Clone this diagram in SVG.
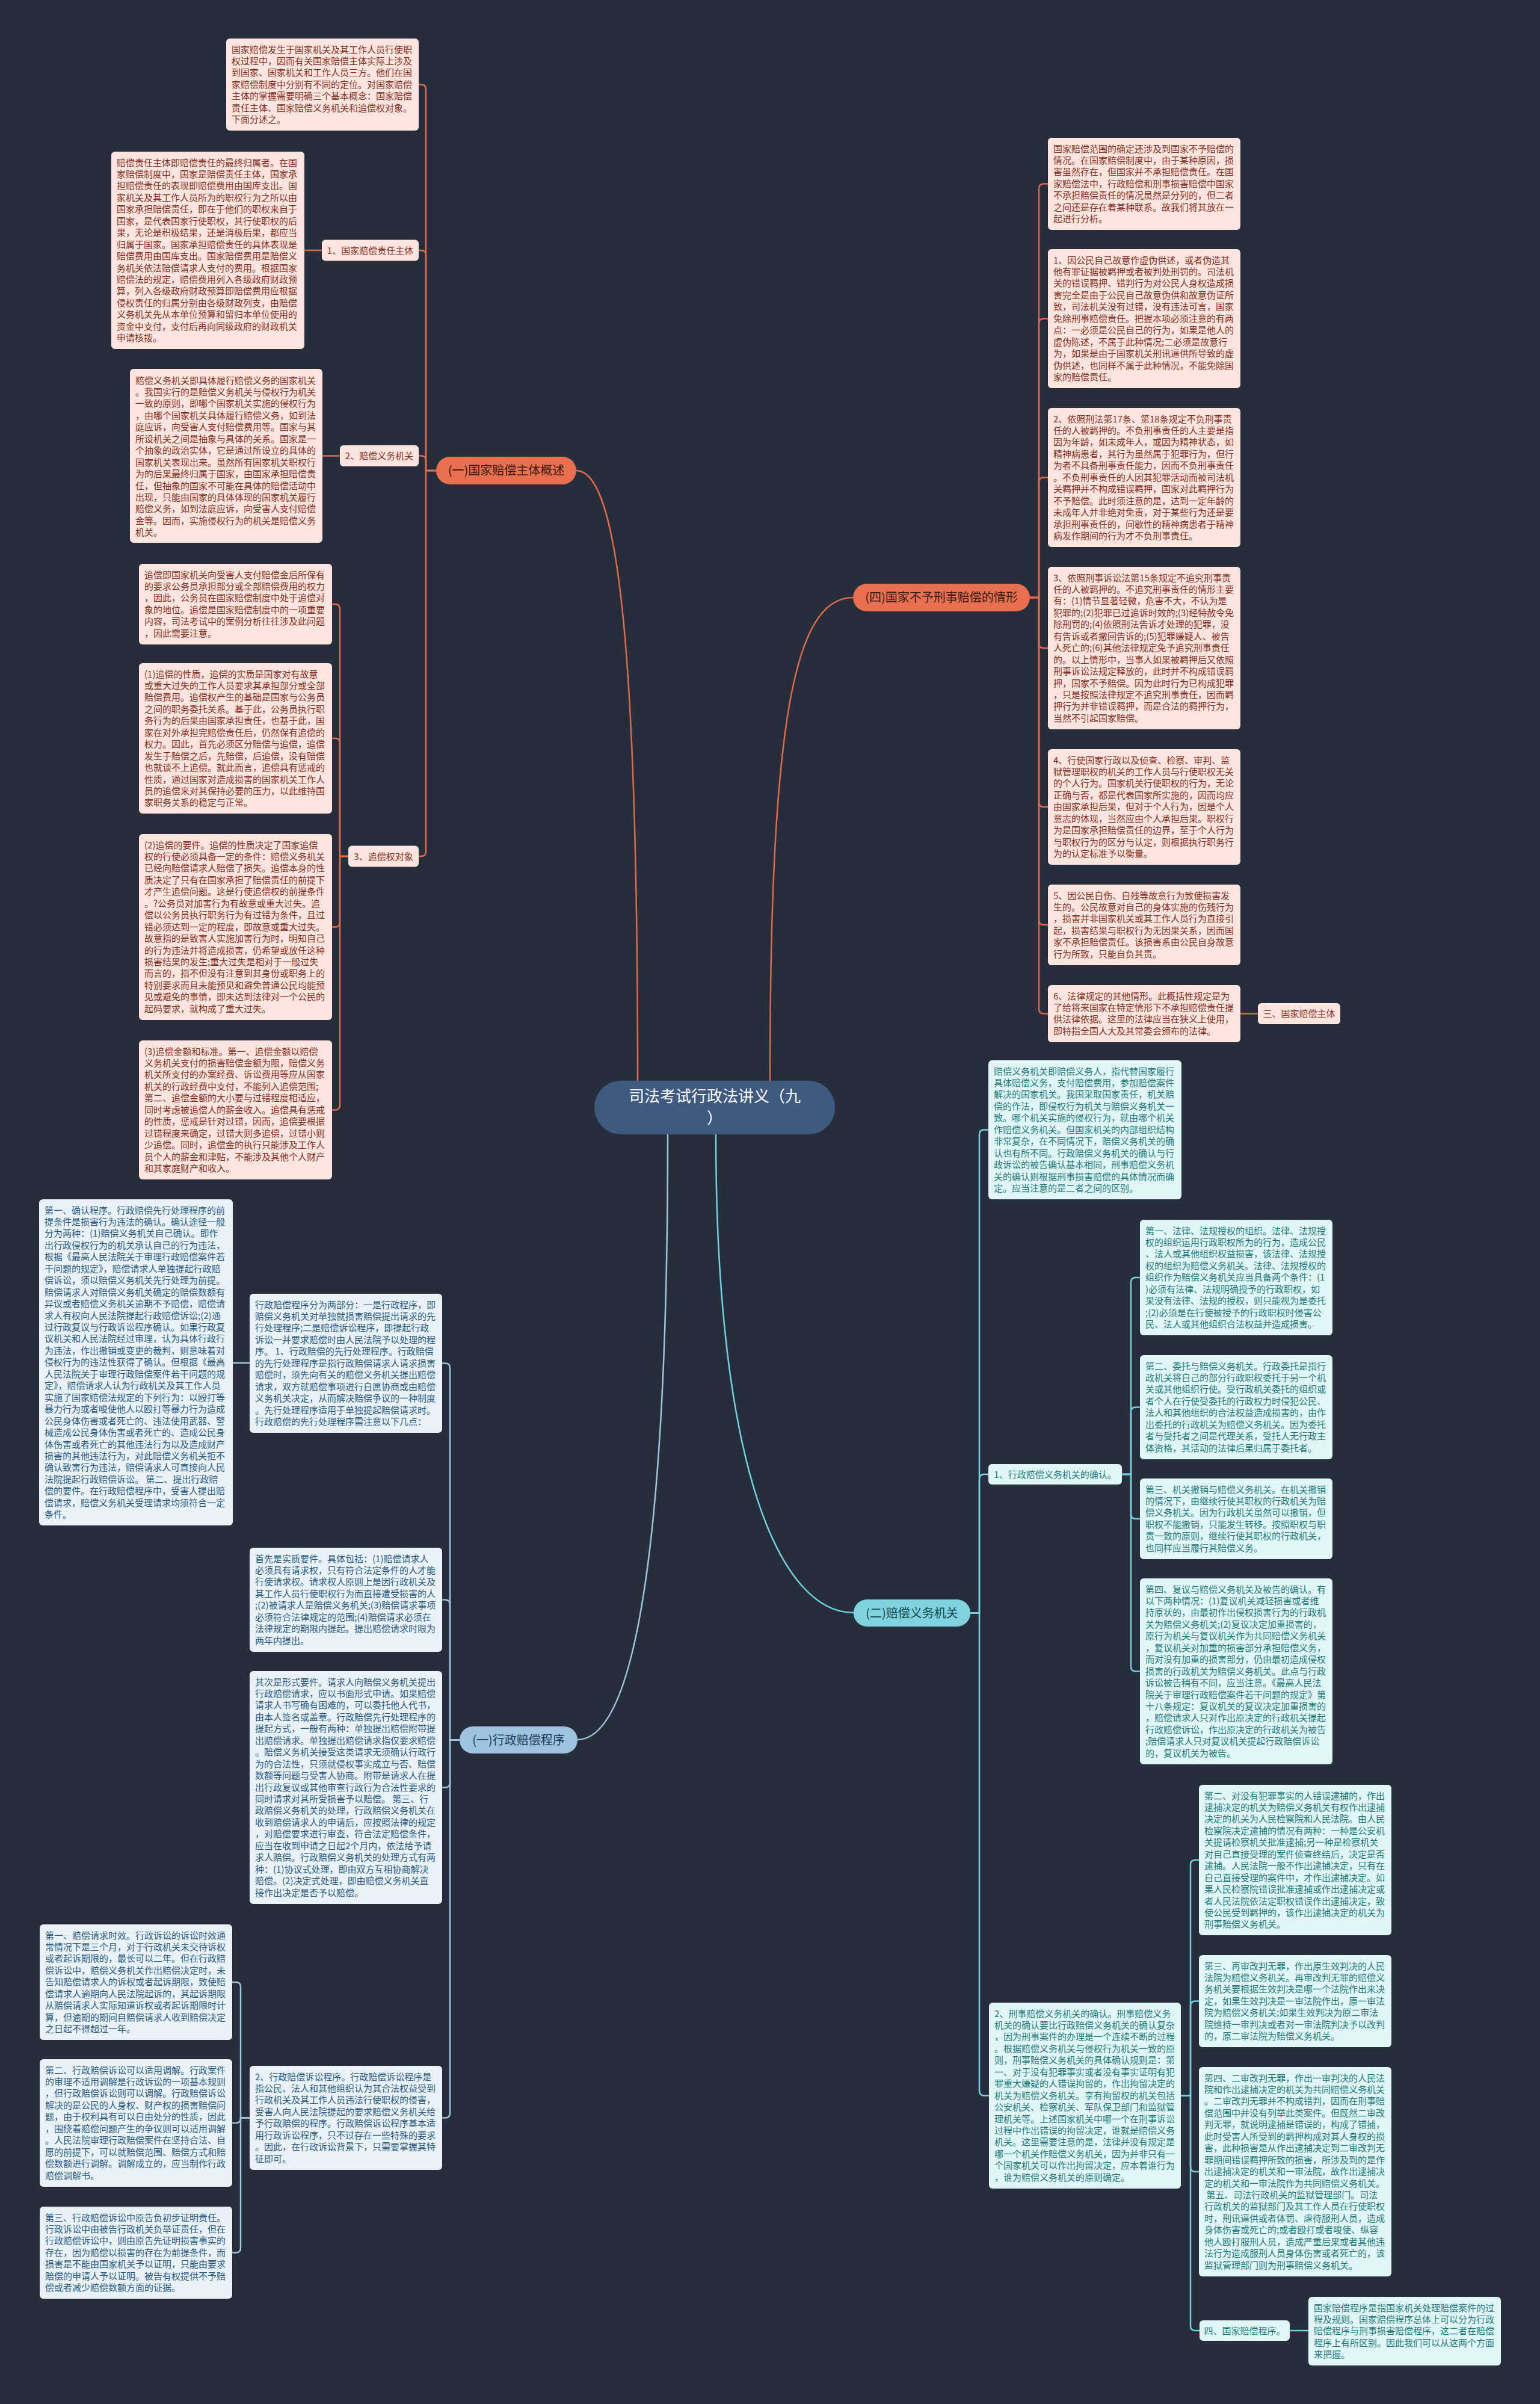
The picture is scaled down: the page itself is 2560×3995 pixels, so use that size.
<svg xmlns="http://www.w3.org/2000/svg" width="2560" height="3995" viewBox="0 0 2560 3995">
<style>
text{font-family:"Noto Sans CJK SC","Noto Sans",sans-serif;font-size:15px}
.pk{fill:#fce5de}
.pt{fill:#8a2e22}
.bl{fill:#e8f2f8}
.bt{fill:#295a85}
.cy{fill:#e1f6f7}
.ct{fill:#1b7a7e}
.oc{fill:none;stroke:#e0694b;stroke-width:2.5}
.bc{fill:none;stroke:#9fc4de;stroke-width:2.5}
.cc{fill:none;stroke:#73d2df;stroke-width:2.5}
.mid{text-anchor:middle}
.big{font-size:20px}
</style>
<rect width="2560" height="3995" fill="#262e3c"/>
<g id="connectors">
<path class="oc" d="M1060 1796C1060 1100 1030 782 958 782"/>
<path class="oc" d="M725 782H708V148.5Q708 140.5 700 140.5H696"/>
<path class="oc" d="M725 782H708V424Q708 416 700 416H696"/>
<path class="oc" d="M725 782H708V765.5Q708 757.5 700 757.5H696"/>
<path class="oc" d="M725 782H708V1415Q708 1423 700 1423H696"/>
<path class="oc" d="M535 416H506"/>
<path class="oc" d="M565 757.5H536"/>
<path class="oc" d="M579 1423H565V1012Q565 1004 557 1004H552"/>
<path class="oc" d="M579 1423H565V1235Q565 1227 557 1227H552"/>
<path class="oc" d="M579 1423H565V1532.5Q565 1540.5 557 1540.5H552"/>
<path class="oc" d="M579 1423H565V1836.5Q565 1844.5 557 1844.5H552"/>
<path class="oc" d="M1280 1796C1280 1200 1320 993 1418 993"/>
<path class="oc" d="M1712 993H1727V313.5Q1727 305.5 1735 305.5H1742"/>
<path class="oc" d="M1712 993H1727V537.5Q1727 529.5 1735 529.5H1742"/>
<path class="oc" d="M1712 993H1727V801.5Q1727 793.5 1735 793.5H1742"/>
<path class="oc" d="M1712 993H1727V1069Q1727 1077 1735 1077H1742"/>
<path class="oc" d="M1712 993H1727V1333Q1727 1341 1735 1341H1742"/>
<path class="oc" d="M1712 993H1727V1529Q1727 1537 1735 1537H1742"/>
<path class="oc" d="M1712 993H1727V1676.5Q1727 1684.5 1735 1684.5H1742"/>
<path class="oc" d="M2062 1684.5H2091"/>
<path class="cc" d="M1190 1885C1190 2450 1300 2680 1419 2680"/>
<path class="cc" d="M1613 2680.5H1628V1885.5Q1628 1877.5 1636 1877.5H1643"/>
<path class="cc" d="M1613 2680.5H1628V2458Q1628 2450 1636 2450H1643"/>
<path class="cc" d="M1613 2680.5H1628V3474.5Q1628 3482.5 1636 3482.5H1644"/>
<path class="cc" d="M1865 2450H1880V2131Q1880 2123 1888 2123H1895"/>
<path class="cc" d="M1865 2450H1880V2346.5Q1880 2338.5 1888 2338.5H1895"/>
<path class="cc" d="M1865 2450H1880V2516Q1880 2524 1888 2524H1895"/>
<path class="cc" d="M1865 2450H1880V2769.5Q1880 2777.5 1888 2777.5H1895"/>
<path class="cc" d="M1963 3482.5H1979V3099Q1979 3091 1987 3091H1993"/>
<path class="cc" d="M1963 3482.5H1979V3333.5Q1979 3325.5 1987 3325.5H1993"/>
<path class="cc" d="M1963 3482.5H1979V3601Q1979 3609 1987 3609H1993"/>
<path class="cc" d="M1963 3482.5H1979V3865Q1979 3873 1987 3873H1994"/>
<path class="cc" d="M2144 3873H2175"/>
<path class="bc" d="M1110 1885C1110 2600 1050 2891 960 2891"/>
<path class="bc" d="M764 2891.5H748V2273.5Q748 2265.5 740 2265.5H735"/>
<path class="bc" d="M764 2891.5H748V2666.5Q748 2658.5 740 2658.5H735"/>
<path class="bc" d="M764 2891.5H748V2962.5Q748 2970.5 740 2970.5H735"/>
<path class="bc" d="M764 2891.5H748V3511.5Q748 3519.5 740 3519.5H735"/>
<path class="bc" d="M415 2265H387"/>
<path class="bc" d="M415 3519.5H400V3302Q400 3294 392 3294H386"/>
<path class="bc" d="M415 3519.5H400V3520Q400 3528 392 3528H386"/>
<path class="bc" d="M415 3519.5H400V3735.5Q400 3743.5 392 3743.5H386"/>
</g>
<g id="center">
<rect x="988" y="1796" width="400" height="89" rx="44" fill="#3f5a7e"/>
<text class="mid" x="1188" y="1831" style="font-size:26px" fill="#ffffff">司法考试行政法讲义（九<tspan x="1188" dy="36">）</tspan></text>
</g>
<g id="n-gjpczt">
<rect x="725" y="759" width="233" height="46" rx="23" fill="#e8704f"/>
<text class="mid big" x="841.5" y="789" fill="#3a1a12">(一)国家赔偿主体概述</text>
</g>
<g id="n-intro">
<rect class="pk" x="376" y="64" width="320" height="153" rx="6"/>
<text class="pt" x="385" y="87.5">国家赔偿发生于国家机关及其工作人员行使职<tspan x="385" dy="19.45">权过程中，因而有关国家赔偿主体实际上涉及</tspan><tspan x="385" dy="19.45">到国家、国家机关和工作人员三方。他们在国</tspan><tspan x="385" dy="19.45">家赔偿制度中分别有不同的定位。对国家赔偿</tspan><tspan x="385" dy="19.45">主体的掌握需要明确三个基本概念：国家赔偿</tspan><tspan x="385" dy="19.45">责任主体、国家赔偿义务机关和追偿权对象。</tspan><tspan x="385" dy="19.45">下面分述之。</tspan></text>
</g>
<g id="l-zrzt">
<rect class="pk" x="535" y="398.5" width="161" height="35" rx="6"/>
<text class="pt mid" x="615.5" y="421.5">1、国家赔偿责任主体</text>
</g>
<g id="b-zrzt">
<rect class="pk" x="185" y="252" width="321" height="328" rx="6"/>
<text class="pt" x="194" y="275.5">赔偿责任主体即赔偿责任的最终归属者。在国<tspan x="194" dy="19.45">家赔偿制度中，国家是赔偿责任主体，国家承</tspan><tspan x="194" dy="19.45">担赔偿责任的表现即赔偿费用由国库支出。国</tspan><tspan x="194" dy="19.45">家机关及其工作人员所为的职权行为之所以由</tspan><tspan x="194" dy="19.45">国家承担赔偿责任，即在于他们的职权来自于</tspan><tspan x="194" dy="19.45">国家，是代表国家行使职权，其行使职权的后</tspan><tspan x="194" dy="19.45">果，无论是积极结果，还是消极后果，都应当</tspan><tspan x="194" dy="19.45">归属于国家。国家承担赔偿责任的具体表现是</tspan><tspan x="194" dy="19.45">赔偿费用由国库支出。国家赔偿费用是赔偿义</tspan><tspan x="194" dy="19.45">务机关依法赔偿请求人支付的费用。根据国家</tspan><tspan x="194" dy="19.45">赔偿法的规定，赔偿费用列入各级政府财政预</tspan><tspan x="194" dy="19.45">算，列入各级政府财政预算即赔偿费用应根据</tspan><tspan x="194" dy="19.45">侵权责任的归属分别由各级财政列支，由赔偿</tspan><tspan x="194" dy="19.45">义务机关先从本单位预算和留归本单位使用的</tspan><tspan x="194" dy="19.45">资金中支付，支付后再向同级政府的财政机关</tspan><tspan x="194" dy="19.45">申请核拨。</tspan></text>
</g>
<g id="l-ywjg">
<rect class="pk" x="565" y="740" width="131" height="35" rx="6"/>
<text class="pt mid" x="630.5" y="763">2、赔偿义务机关</text>
</g>
<g id="b-ywjg">
<rect class="pk" x="216" y="613" width="320" height="289" rx="6"/>
<text class="pt" x="225" y="637.5">赔偿义务机关即具体履行赔偿义务的国家机关<tspan x="225" dy="19.45">。我国实行的是赔偿义务机关与侵权行为机关</tspan><tspan x="225" dy="19.45">一致的原则，即哪个国家机关实施的侵权行为</tspan><tspan x="225" dy="19.45">，由哪个国家机关具体履行赔偿义务，如到法</tspan><tspan x="225" dy="19.45">庭应诉，向受害人支付赔偿费用等。国家与其</tspan><tspan x="225" dy="19.45">所设机关之间是抽象与具体的关系。国家是一</tspan><tspan x="225" dy="19.45">个抽象的政治实体，它是通过所设立的具体的</tspan><tspan x="225" dy="19.45">国家机关表现出来。虽然所有国家机关职权行</tspan><tspan x="225" dy="19.45">为的后果最终归属于国家，由国家承担赔偿责</tspan><tspan x="225" dy="19.45">任，但抽象的国家不可能在具体的赔偿活动中</tspan><tspan x="225" dy="19.45">出现，只能由国家的具体体现的国家机关履行</tspan><tspan x="225" dy="19.45">赔偿义务，如到法庭应诉，向受害人支付赔偿</tspan><tspan x="225" dy="19.45">金等。因而，实施侵权行为的机关是赔偿义务</tspan><tspan x="225" dy="19.45">机关。</tspan></text>
</g>
<g id="l-zcq">
<rect class="pk" x="579" y="1405.5" width="117" height="35" rx="6"/>
<text class="pt mid" x="637.5" y="1428.5">3、追偿权对象</text>
</g>
<g id="b-zc0">
<rect class="pk" x="231" y="937" width="321" height="134" rx="6"/>
<text class="pt" x="240" y="960.5">追偿即国家机关向受害人支付赔偿金后所保有<tspan x="240" dy="19.45">的要求公务员承担部分或全部赔偿费用的权力</tspan><tspan x="240" dy="19.45">，因此，公务员在国家赔偿制度中处于追偿对</tspan><tspan x="240" dy="19.45">象的地位。追偿是国家赔偿制度中的一项重要</tspan><tspan x="240" dy="19.45">内容，司法考试中的案例分析往往涉及此问题</tspan><tspan x="240" dy="19.45">，因此需要注意。</tspan></text>
</g>
<g id="b-zc1">
<rect class="pk" x="231" y="1102" width="321" height="250" rx="6"/>
<text class="pt" x="240" y="1125.5">(1)追偿的性质，追偿的实质是国家对有故意<tspan x="240" dy="19.45">或重大过失的工作人员要求其承担部分或全部</tspan><tspan x="240" dy="19.45">赔偿费用。追偿权产生的基础是国家与公务员</tspan><tspan x="240" dy="19.45">之间的职务委托关系。基于此，公务员执行职</tspan><tspan x="240" dy="19.45">务行为的后果由国家承担责任，也基于此，国</tspan><tspan x="240" dy="19.45">家在对外承担完赔偿责任后，仍然保有追偿的</tspan><tspan x="240" dy="19.45">权力。因此，首先必须区分赔偿与追偿，追偿</tspan><tspan x="240" dy="19.45">发生于赔偿之后，先赔偿，后追偿，没有赔偿</tspan><tspan x="240" dy="19.45">也就谈不上追偿。就此而言，追偿具有惩戒的</tspan><tspan x="240" dy="19.45">性质，通过国家对造成损害的国家机关工作人</tspan><tspan x="240" dy="19.45">员的追偿来对其保持必要的压力，以此维持国</tspan><tspan x="240" dy="19.45">家职务关系的稳定与正常。</tspan></text>
</g>
<g id="b-zc2">
<rect class="pk" x="231" y="1386" width="321" height="309" rx="6"/>
<text class="pt" x="240" y="1409.5">(2)追偿的要件。追偿的性质决定了国家追偿<tspan x="240" dy="19.45">权的行使必须具备一定的条件：赔偿义务机关</tspan><tspan x="240" dy="19.45">已经向赔偿请求人赔偿了损失。追偿本身的性</tspan><tspan x="240" dy="19.45">质决定了只有在国家承担了赔偿责任的前提下</tspan><tspan x="240" dy="19.45">才产生追偿问题。这是行使追偿权的前提条件</tspan><tspan x="240" dy="19.45">。?公务员对加害行为有故意或重大过失。追</tspan><tspan x="240" dy="19.45">偿以公务员执行职务行为有过错为条件，且过</tspan><tspan x="240" dy="19.45">错必须达到一定的程度，即故意或重大过失。</tspan><tspan x="240" dy="19.45">故意指的是致害人实施加害行为时，明知自己</tspan><tspan x="240" dy="19.45">的行为违法并将造成损害，仍希望或放任这种</tspan><tspan x="240" dy="19.45">损害结果的发生;重大过失是相对于一般过失</tspan><tspan x="240" dy="19.45">而言的，指不但没有注意到其身份或职务上的</tspan><tspan x="240" dy="19.45">特别要求而且未能预见和避免普通公民均能预</tspan><tspan x="240" dy="19.45">见或避免的事情，即未达到法律对一个公民的</tspan><tspan x="240" dy="19.45">起码要求，就构成了重大过失。</tspan></text>
</g>
<g id="b-zc3">
<rect class="pk" x="231" y="1729" width="321" height="231" rx="6"/>
<text class="pt" x="240" y="1752.5">(3)追偿金额和标准。第一、追偿金额以赔偿<tspan x="240" dy="19.45">义务机关支付的损害赔偿金额为限，赔偿义务</tspan><tspan x="240" dy="19.45">机关所支付的办案经费、诉讼费用等应从国家</tspan><tspan x="240" dy="19.45">机关的行政经费中支付，不能列入追偿范围;</tspan><tspan x="240" dy="19.45">第二、追偿金额的大小要与过错程度相适应，</tspan><tspan x="240" dy="19.45">同时考虑被追偿人的薪金收入。追偿具有惩戒</tspan><tspan x="240" dy="19.45">的性质，惩戒是针对过错，因而，追偿要根据</tspan><tspan x="240" dy="19.45">过错程度来确定，过错大则多追偿，过错小则</tspan><tspan x="240" dy="19.45">少追偿。同时，追偿金的执行只能涉及工作人</tspan><tspan x="240" dy="19.45">员个人的薪金和津贴，不能涉及其他个人财产</tspan><tspan x="240" dy="19.45">和其家庭财产和收入。</tspan></text>
</g>
<g id="n-xzpccx">
<rect x="764" y="2869" width="196" height="45" rx="22" fill="#9cc3df"/>
<text class="mid big" x="862" y="2898.5" fill="#1f3d5a">(一)行政赔偿程序</text>
</g>
<g id="b-xz0">
<rect class="bl" x="415" y="2150" width="320" height="231" rx="6"/>
<text class="bt" x="424" y="2173.5">行政赔偿程序分为两部分：一是行政程序，即<tspan x="424" dy="19.45">赔偿义务机关对单独就损害赔偿提出请求的先</tspan><tspan x="424" dy="19.45">行处理程序;二是赔偿诉讼程序，即提起行政</tspan><tspan x="424" dy="19.45">诉讼一并要求赔偿时由人民法院予以处理的程</tspan><tspan x="424" dy="19.45">序。 1、行政赔偿的先行处理程序。行政赔偿</tspan><tspan x="424" dy="19.45">的先行处理程序是指行政赔偿请求人请求损害</tspan><tspan x="424" dy="19.45">赔偿时，须先向有关的赔偿义务机关提出赔偿</tspan><tspan x="424" dy="19.45">请求，双方就赔偿事项进行自愿协商或由赔偿</tspan><tspan x="424" dy="19.45">义务机关决定，从而解决赔偿争议的一种制度</tspan><tspan x="424" dy="19.45">。先行处理程序适用于单独提起赔偿请求时。</tspan><tspan x="424" dy="19.45">行政赔偿的先行处理程序需注意以下几点：</tspan></text>
</g>
<g id="b-xz00">
<rect class="bl" x="65" y="1993" width="322" height="542" rx="6"/>
<text class="bt" x="74" y="2016.5">第一、确认程序。行政赔偿先行处理程序的前<tspan x="74" dy="19.45">提条件是损害行为违法的确认。确认途径一般</tspan><tspan x="74" dy="19.45">分为两种：(1)赔偿义务机关自己确认。即作</tspan><tspan x="74" dy="19.45">出行政侵权行为的机关承认自己的行为违法，</tspan><tspan x="74" dy="19.45">根据《最高人民法院关于审理行政赔偿案件若</tspan><tspan x="74" dy="19.45">干问题的规定》，赔偿请求人单独提起行政赔</tspan><tspan x="74" dy="19.45">偿诉讼，须以赔偿义务机关先行处理为前提。</tspan><tspan x="74" dy="19.45">赔偿请求人对赔偿义务机关确定的赔偿数额有</tspan><tspan x="74" dy="19.45">异议或者赔偿义务机关逾期不予赔偿，赔偿请</tspan><tspan x="74" dy="19.45">求人有权向人民法院提起行政赔偿诉讼;(2)通</tspan><tspan x="74" dy="19.45">过行政复议与行政诉讼程序确认。如果行政复</tspan><tspan x="74" dy="19.45">议机关和人民法院经过审理，认为具体行政行</tspan><tspan x="74" dy="19.45">为违法，作出撤销或变更的裁判，则意味着对</tspan><tspan x="74" dy="19.45">侵权行为的违法性获得了确认。但根据《最高</tspan><tspan x="74" dy="19.45">人民法院关于审理行政赔偿案件若干问题的规</tspan><tspan x="74" dy="19.45">定》，赔偿请求人认为行政机关及其工作人员</tspan><tspan x="74" dy="19.45">实施了国家赔偿法规定的下列行为：以殴打等</tspan><tspan x="74" dy="19.45">暴力行为或者唆使他人以殴打等暴力行为造成</tspan><tspan x="74" dy="19.45">公民身体伤害或者死亡的、违法使用武器、警</tspan><tspan x="74" dy="19.45">械造成公民身体伤害或者死亡的、造成公民身</tspan><tspan x="74" dy="19.45">体伤害或者死亡的其他违法行为以及造成财产</tspan><tspan x="74" dy="19.45">损害的其他违法行为，对此赔偿义务机关拒不</tspan><tspan x="74" dy="19.45">确认致害行为违法，赔偿请求人可直接向人民</tspan><tspan x="74" dy="19.45">法院提起行政赔偿诉讼。 第二、提出行政赔</tspan><tspan x="74" dy="19.45">偿的要件。在行政赔偿程序中，受害人提出赔</tspan><tspan x="74" dy="19.45">偿请求，赔偿义务机关受理请求均须符合一定</tspan><tspan x="74" dy="19.45">条件。</tspan></text>
</g>
<g id="b-xz1">
<rect class="bl" x="415" y="2572" width="320" height="173" rx="6"/>
<text class="bt" x="424" y="2595.5">首先是实质要件。具体包括：(1)赔偿请求人<tspan x="424" dy="19.45">必须具有请求权，只有符合法定条件的人才能</tspan><tspan x="424" dy="19.45">行使请求权。请求权人原则上是因行政机关及</tspan><tspan x="424" dy="19.45">其工作人员行使职权行为而直接遭受损害的人</tspan><tspan x="424" dy="19.45">;(2)被请求人是赔偿义务机关;(3)赔偿请求事项</tspan><tspan x="424" dy="19.45">必须符合法律规定的范围;(4)赔偿请求必须在</tspan><tspan x="424" dy="19.45">法律规定的期限内提起。提出赔偿请求时限为</tspan><tspan x="424" dy="19.45">两年内提出。</tspan></text>
</g>
<g id="b-xz2">
<rect class="bl" x="415" y="2777" width="320" height="387" rx="6"/>
<text class="bt" x="424" y="2800.5">其次是形式要件。请求人向赔偿义务机关提出<tspan x="424" dy="19.45">行政赔偿请求，应以书面形式申请。如果赔偿</tspan><tspan x="424" dy="19.45">请求人书写确有困难的，可以委托他人代书，</tspan><tspan x="424" dy="19.45">由本人签名或盖章。行政赔偿先行处理程序的</tspan><tspan x="424" dy="19.45">提起方式，一般有两种：单独提出赔偿附带提</tspan><tspan x="424" dy="19.45">出赔偿请求。单独提出赔偿请求指仅要求赔偿</tspan><tspan x="424" dy="19.45">。赔偿义务机关接受这类请求无须确认行政行</tspan><tspan x="424" dy="19.45">为的合法性，只须就侵权事实成立与否、赔偿</tspan><tspan x="424" dy="19.45">数额等问题与受害人协商。附带是请求人在提</tspan><tspan x="424" dy="19.45">出行政复议或其他审查行政行为合法性要求的</tspan><tspan x="424" dy="19.45">同时请求对其所受损害予以赔偿。 第三、行</tspan><tspan x="424" dy="19.45">政赔偿义务机关的处理，行政赔偿义务机关在</tspan><tspan x="424" dy="19.45">收到赔偿请求人的申请后，应按照法律的规定</tspan><tspan x="424" dy="19.45">，对赔偿要求进行审查，符合法定赔偿条件，</tspan><tspan x="424" dy="19.45">应当在收到申请之日起2个月内，依法给予请</tspan><tspan x="424" dy="19.45">求人赔偿。行政赔偿义务机关的处理方式有两</tspan><tspan x="424" dy="19.45">种：(1)协议式处理，即由双方互相协商解决</tspan><tspan x="424" dy="19.45">赔偿。(2)决定式处理，即由赔偿义务机关直</tspan><tspan x="424" dy="19.45">接作出决定是否予以赔偿。</tspan></text>
</g>
<g id="b-xz3">
<rect class="bl" x="415" y="3433" width="320" height="173" rx="6"/>
<text class="bt" x="424" y="3456.5">2、行政赔偿诉讼程序。行政赔偿诉讼程序是<tspan x="424" dy="19.45">指公民、法人和其他组织认为其合法权益受到</tspan><tspan x="424" dy="19.45">行政机关及其工作人员违法行使职权的侵害，</tspan><tspan x="424" dy="19.45">受害人向人民法院提起的要求赔偿义务机关给</tspan><tspan x="424" dy="19.45">予行政赔偿的程序。行政赔偿诉讼程序基本适</tspan><tspan x="424" dy="19.45">用行政诉讼程序，只不过存在一些特殊的要求</tspan><tspan x="424" dy="19.45">。因此，在行政诉讼背景下，只需要掌握其特</tspan><tspan x="424" dy="19.45">征即可。</tspan></text>
</g>
<g id="b-xz31">
<rect class="bl" x="66" y="3198" width="320" height="192" rx="6"/>
<text class="bt" x="75" y="3221.5">第一、赔偿请求时效。行政诉讼的诉讼时效通<tspan x="75" dy="19.45">常情况下是三个月，对于行政机关未交待诉权</tspan><tspan x="75" dy="19.45">或者起诉期限的，最长可以二年。但在行政赔</tspan><tspan x="75" dy="19.45">偿诉讼中，赔偿义务机关作出赔偿决定时，未</tspan><tspan x="75" dy="19.45">告知赔偿请求人的诉权或者起诉期限，致使赔</tspan><tspan x="75" dy="19.45">偿请求人逾期向人民法院起诉的，其起诉期限</tspan><tspan x="75" dy="19.45">从赔偿请求人实际知道诉权或者起诉期限时计</tspan><tspan x="75" dy="19.45">算，但逾期的期间自赔偿请求人收到赔偿决定</tspan><tspan x="75" dy="19.45">之日起不得超过一年。</tspan></text>
</g>
<g id="b-xz32">
<rect class="bl" x="66" y="3422" width="320" height="212" rx="6"/>
<text class="bt" x="75" y="3445.5">第二、行政赔偿诉讼可以适用调解。行政案件<tspan x="75" dy="19.45">的审理不适用调解是行政诉讼的一项基本规则</tspan><tspan x="75" dy="19.45">，但行政赔偿诉讼则可以调解。行政赔偿诉讼</tspan><tspan x="75" dy="19.45">解决的是公民的人身权、财产权的损害赔偿问</tspan><tspan x="75" dy="19.45">题，由于权利具有可以自由处分的性质，因此</tspan><tspan x="75" dy="19.45">，围绕着赔偿问题产生的争议则可以适用调解</tspan><tspan x="75" dy="19.45">。人民法院审理行政赔偿案件在坚持合法、自</tspan><tspan x="75" dy="19.45">愿的前提下，可以就赔偿范围、赔偿方式和赔</tspan><tspan x="75" dy="19.45">偿数额进行调解。调解成立的，应当制作行政</tspan><tspan x="75" dy="19.45">赔偿调解书。</tspan></text>
</g>
<g id="b-xz33">
<rect class="bl" x="66" y="3667" width="320" height="153" rx="6"/>
<text class="bt" x="75" y="3690.5">第三、行政赔偿诉讼中原告负初步证明责任。<tspan x="75" dy="19.45">行政诉讼中由被告行政机关负举证责任，但在</tspan><tspan x="75" dy="19.45">行政赔偿诉讼中，则由原告先证明损害事实的</tspan><tspan x="75" dy="19.45">存在，因为赔偿以损害的存在为前提条件，而</tspan><tspan x="75" dy="19.45">损害是不能由国家机关予以证明，只能由要求</tspan><tspan x="75" dy="19.45">赔偿的申请人予以证明。被告有权提供不予赔</tspan><tspan x="75" dy="19.45">偿或者减少赔偿数额方面的证据。</tspan></text>
</g>
<g id="n-bypc">
<rect x="1418" y="970" width="294" height="46" rx="23" fill="#e8704f"/>
<text class="mid big" x="1565" y="1000" fill="#3a1a12">(四)国家不予刑事赔偿的情形</text>
</g>
<g id="b-by0">
<rect class="pk" x="1742" y="229" width="320" height="153" rx="6"/>
<text class="pt" x="1751" y="252.5">国家赔偿范围的确定还涉及到国家不予赔偿的<tspan x="1751" dy="19.45">情况。在国家赔偿制度中，由于某种原因，损</tspan><tspan x="1751" dy="19.45">害虽然存在，但国家并不承担赔偿责任。在国</tspan><tspan x="1751" dy="19.45">家赔偿法中，行政赔偿和刑事损害赔偿中国家</tspan><tspan x="1751" dy="19.45">不承担赔偿责任的情况虽然是分列的，但二者</tspan><tspan x="1751" dy="19.45">之间还是存在着某种联系。故我们将其放在一</tspan><tspan x="1751" dy="19.45">起进行分析。</tspan></text>
</g>
<g id="b-by1">
<rect class="pk" x="1742" y="414" width="320" height="231" rx="6"/>
<text class="pt" x="1751" y="437.5">1、因公民自己故意作虚伪供述，或者伪造其<tspan x="1751" dy="19.45">他有罪证据被羁押或者被判处刑罚的。司法机</tspan><tspan x="1751" dy="19.45">关的错误羁押、错判行为对公民人身权造成损</tspan><tspan x="1751" dy="19.45">害完全是由于公民自己故意伪供和故意伪证所</tspan><tspan x="1751" dy="19.45">致，司法机关没有过错，没有违法可言，国家</tspan><tspan x="1751" dy="19.45">免除刑事赔偿责任。把握本项必须注意的有两</tspan><tspan x="1751" dy="19.45">点：一必须是公民自己的行为，如果是他人的</tspan><tspan x="1751" dy="19.45">虚伪陈述，不属于此种情况;二必须是故意行</tspan><tspan x="1751" dy="19.45">为，如果是由于国家机关刑讯逼供所导致的虚</tspan><tspan x="1751" dy="19.45">伪供述，也同样不属于此种情况，不能免除国</tspan><tspan x="1751" dy="19.45">家的赔偿责任。</tspan></text>
</g>
<g id="b-by2">
<rect class="pk" x="1742" y="678" width="320" height="231" rx="6"/>
<text class="pt" x="1751" y="701.5">2、依照刑法第17条、第18条规定不负刑事责<tspan x="1751" dy="19.45">任的人被羁押的。不负刑事责任的人主要是指</tspan><tspan x="1751" dy="19.45">因为年龄，如未成年人，或因为精神状态，如</tspan><tspan x="1751" dy="19.45">精神病患者，其行为虽然属于犯罪行为，但行</tspan><tspan x="1751" dy="19.45">为者不具备刑事责任能力，因而不负刑事责任</tspan><tspan x="1751" dy="19.45">。不负刑事责任的人因其犯罪活动而被司法机</tspan><tspan x="1751" dy="19.45">关羁押并不构成错误羁押，国家对此羁押行为</tspan><tspan x="1751" dy="19.45">不予赔偿。此时须注意的是，达到一定年龄的</tspan><tspan x="1751" dy="19.45">未成年人并非绝对免责，对于某些行为还是要</tspan><tspan x="1751" dy="19.45">承担刑事责任的，间歇性的精神病患者于精神</tspan><tspan x="1751" dy="19.45">病发作期间的行为才不负刑事责任。</tspan></text>
</g>
<g id="b-by3">
<rect class="pk" x="1742" y="942" width="320" height="270" rx="6"/>
<text class="pt" x="1751" y="965.5">3、依照刑事诉讼法第15条规定不追究刑事责<tspan x="1751" dy="19.45">任的人被羁押的。不追究刑事责任的情形主要</tspan><tspan x="1751" dy="19.45">有：(1)情节显著轻微，危害不大，不认为是</tspan><tspan x="1751" dy="19.45">犯罪的;(2)犯罪已过追诉时效的;(3)经特赦令免</tspan><tspan x="1751" dy="19.45">除刑罚的;(4)依照刑法告诉才处理的犯罪，没</tspan><tspan x="1751" dy="19.45">有告诉或者撤回告诉的;(5)犯罪嫌疑人、被告</tspan><tspan x="1751" dy="19.45">人死亡的;(6)其他法律规定免予追究刑事责任</tspan><tspan x="1751" dy="19.45">的。以上情形中，当事人如果被羁押后又依照</tspan><tspan x="1751" dy="19.45">刑事诉讼法规定释放的，此时并不构成错误羁</tspan><tspan x="1751" dy="19.45">押，国家不予赔偿。因为此时行为已构成犯罪</tspan><tspan x="1751" dy="19.45">，只是按照法律规定不追究刑事责任，因而羁</tspan><tspan x="1751" dy="19.45">押行为并非错误羁押，而是合法的羁押行为，</tspan><tspan x="1751" dy="19.45">当然不引起国家赔偿。</tspan></text>
</g>
<g id="b-by4">
<rect class="pk" x="1742" y="1245" width="320" height="192" rx="6"/>
<text class="pt" x="1751" y="1268.5">4、行使国家行政以及侦查、检察、审判、监<tspan x="1751" dy="19.45">狱管理职权的机关的工作人员与行使职权无关</tspan><tspan x="1751" dy="19.45">的个人行为。国家机关行使职权的行为，无论</tspan><tspan x="1751" dy="19.45">正确与否，都是代表国家所实施的，因而均应</tspan><tspan x="1751" dy="19.45">由国家承担后果，但对于个人行为，因是个人</tspan><tspan x="1751" dy="19.45">意志的体现，当然应由个人承担后果。职权行</tspan><tspan x="1751" dy="19.45">为是国家承担赔偿责任的边界，至于个人行为</tspan><tspan x="1751" dy="19.45">与职权行为的区分与认定，则根据执行职务行</tspan><tspan x="1751" dy="19.45">为的认定标准予以衡量。</tspan></text>
</g>
<g id="b-by5">
<rect class="pk" x="1742" y="1470" width="320" height="134" rx="6"/>
<text class="pt" x="1751" y="1493.5">5、因公民自伤、自残等故意行为致使损害发<tspan x="1751" dy="19.45">生的。公民故意对自己的身体实施的伤残行为</tspan><tspan x="1751" dy="19.45">，损害并非国家机关或其工作人员行为直接引</tspan><tspan x="1751" dy="19.45">起，损害结果与职权行为无因果关系，因而国</tspan><tspan x="1751" dy="19.45">家不承担赔偿责任。该损害系由公民自身故意</tspan><tspan x="1751" dy="19.45">行为所致，只能自负其责。</tspan></text>
</g>
<g id="b-by6">
<rect class="pk" x="1742" y="1637" width="320" height="95" rx="6"/>
<text class="pt" x="1751" y="1660.5">6、法律规定的其他情形。此概括性规定是为<tspan x="1751" dy="19.45">了给将来国家在特定情形下不承担赔偿责任提</tspan><tspan x="1751" dy="19.45">供法律依据。这里的法律应当在狭义上使用，</tspan><tspan x="1751" dy="19.45">即特指全国人大及其常委会颁布的法律。</tspan></text>
</g>
<g id="l-pczt3">
<rect class="pk" x="2091" y="1667" width="137" height="35" rx="6"/>
<text class="pt mid" x="2159.5" y="1690">三、国家赔偿主体</text>
</g>
<g id="n-pcywjg">
<rect x="1419" y="2658" width="194" height="45" rx="22" fill="#7fd3df"/>
<text class="mid big" x="1516" y="2687.5" fill="#14454a">(二)赔偿义务机关</text>
</g>
<g id="b-yw0">
<rect class="cy" x="1643" y="1762" width="321" height="231" rx="6"/>
<text class="ct" x="1652" y="1785.5">赔偿义务机关即赔偿义务人，指代替国家履行<tspan x="1652" dy="19.45">具体赔偿义务，支付赔偿费用，参加赔偿案件</tspan><tspan x="1652" dy="19.45">解决的国家机关。我国采取国家责任，机关赔</tspan><tspan x="1652" dy="19.45">偿的作法，即侵权行为机关与赔偿义务机关一</tspan><tspan x="1652" dy="19.45">致。哪个机关实施的侵权行为，就由哪个机关</tspan><tspan x="1652" dy="19.45">作赔偿义务机关。但国家机关的内部组织结构</tspan><tspan x="1652" dy="19.45">非常复杂，在不同情况下，赔偿义务机关的确</tspan><tspan x="1652" dy="19.45">认也有所不同。行政赔偿义务机关的确认与行</tspan><tspan x="1652" dy="19.45">政诉讼的被告确认基本相同，刑事赔偿义务机</tspan><tspan x="1652" dy="19.45">关的确认则根据刑事损害赔偿的具体情况而确</tspan><tspan x="1652" dy="19.45">定。应当注意的是二者之间的区别。</tspan></text>
</g>
<g id="l-xzyw">
<rect class="cy" x="1643" y="2433" width="222" height="34" rx="6"/>
<text class="ct mid" x="1754" y="2455.5">1、行政赔偿义务机关的确认。</text>
</g>
<g id="b-xzyw1">
<rect class="cy" x="1895" y="2027" width="320" height="192" rx="6"/>
<text class="ct" x="1904" y="2050.5">第一、法律、法规授权的组织。法律、法规授<tspan x="1904" dy="19.45">权的组织运用行政职权所为的行为，造成公民</tspan><tspan x="1904" dy="19.45">、法人或其他组织权益损害，该法律、法规授</tspan><tspan x="1904" dy="19.45">权的组织为赔偿义务机关。法律、法规授权的</tspan><tspan x="1904" dy="19.45">组织作为赔偿义务机关应当具备两个条件：(1</tspan><tspan x="1904" dy="19.45">)必须有法律、法规明确授予的行政职权，如</tspan><tspan x="1904" dy="19.45">果没有法律、法规的授权，则只能视为是委托</tspan><tspan x="1904" dy="19.45">;(2)必须是在行使被授予的行政职权时侵害公</tspan><tspan x="1904" dy="19.45">民、法人或其他组织合法权益并造成损害。</tspan></text>
</g>
<g id="b-xzyw2">
<rect class="cy" x="1895" y="2252" width="320" height="173" rx="6"/>
<text class="ct" x="1904" y="2275.5">第二、委托与赔偿义务机关。行政委托是指行<tspan x="1904" dy="19.45">政机关将自己的部分行政职权委托于另一个机</tspan><tspan x="1904" dy="19.45">关或其他组织行使。受行政机关委托的组织或</tspan><tspan x="1904" dy="19.45">者个人在行使受委托的行政权力时侵犯公民、</tspan><tspan x="1904" dy="19.45">法人和其他组织的合法权益造成损害的，由作</tspan><tspan x="1904" dy="19.45">出委托的行政机关为赔偿义务机关。因为委托</tspan><tspan x="1904" dy="19.45">者与受托者之间是代理关系，受托人无行政主</tspan><tspan x="1904" dy="19.45">体资格，其活动的法律后果归属于委托者。</tspan></text>
</g>
<g id="b-xzyw3">
<rect class="cy" x="1895" y="2457" width="320" height="134" rx="6"/>
<text class="ct" x="1904" y="2480.5">第三、机关撤销与赔偿义务机关。在机关撤销<tspan x="1904" dy="19.45">的情况下，由继续行使其职权的行政机关为赔</tspan><tspan x="1904" dy="19.45">偿义务机关。因为行政机关虽然可以撤销，但</tspan><tspan x="1904" dy="19.45">职权不能撤销，只能发生转移。按照职权与职</tspan><tspan x="1904" dy="19.45">责一致的原则，继续行使其职权的行政机关，</tspan><tspan x="1904" dy="19.45">也同样应当履行其赔偿义务。</tspan></text>
</g>
<g id="b-xzyw4">
<rect class="cy" x="1895" y="2623" width="320" height="309" rx="6"/>
<text class="ct" x="1904" y="2646.5">第四、复议与赔偿义务机关及被告的确认。有<tspan x="1904" dy="19.45">以下两种情况：(1)复议机关减轻损害或者维</tspan><tspan x="1904" dy="19.45">持原状的，由最初作出侵权损害行为的行政机</tspan><tspan x="1904" dy="19.45">关为赔偿义务机关;(2)复议决定加重损害的，</tspan><tspan x="1904" dy="19.45">原行为机关与复议机关作为共同赔偿义务机关</tspan><tspan x="1904" dy="19.45">，复议机关对加重的损害部分承担赔偿义务，</tspan><tspan x="1904" dy="19.45">而对没有加重的损害部分，仍由最初造成侵权</tspan><tspan x="1904" dy="19.45">损害的行政机关为赔偿义务机关。此点与行政</tspan><tspan x="1904" dy="19.45">诉讼被告稍有不同，应当注意。《最高人民法</tspan><tspan x="1904" dy="19.45">院关于审理行政赔偿案件若干问题的规定》第</tspan><tspan x="1904" dy="19.45">十八条规定：复议机关的复议决定加重损害的</tspan><tspan x="1904" dy="19.45">，赔偿请求人只对作出原决定的行政机关提起</tspan><tspan x="1904" dy="19.45">行政赔偿诉讼，作出原决定的行政机关为被告</tspan><tspan x="1904" dy="19.45">;赔偿请求人只对复议机关提起行政赔偿诉讼</tspan><tspan x="1904" dy="19.45">的，复议机关为被告。</tspan></text>
</g>
<g id="b-xsyw">
<rect class="cy" x="1644" y="3328" width="319" height="309" rx="6"/>
<text class="ct" x="1653" y="3351.5">2、刑事赔偿义务机关的确认。刑事赔偿义务<tspan x="1653" dy="19.45">机关的确认要比行政赔偿义务机关的确认复杂</tspan><tspan x="1653" dy="19.45">，因为刑事案件的办理是一个连续不断的过程</tspan><tspan x="1653" dy="19.45">。根据赔偿义务机关与侵权行为机关一致的原</tspan><tspan x="1653" dy="19.45">则，刑事赔偿义务机关的具体确认规则是：第</tspan><tspan x="1653" dy="19.45">一、对于没有犯罪事实或者没有事实证明有犯</tspan><tspan x="1653" dy="19.45">罪重大嫌疑的人错误拘留的，作出拘留决定的</tspan><tspan x="1653" dy="19.45">机关为赔偿义务机关。享有拘留权的机关包括</tspan><tspan x="1653" dy="19.45">公安机关、检察机关、军队保卫部门和监狱管</tspan><tspan x="1653" dy="19.45">理机关等。上述国家机关中哪一个在刑事诉讼</tspan><tspan x="1653" dy="19.45">过程中作出错误的拘留决定，谁就是赔偿义务</tspan><tspan x="1653" dy="19.45">机关。这里需要注意的是，法律并没有规定是</tspan><tspan x="1653" dy="19.45">哪一个机关作赔偿义务机关，因为并非只有一</tspan><tspan x="1653" dy="19.45">个国家机关可以作出拘留决定，应本着谁行为</tspan><tspan x="1653" dy="19.45">，谁为赔偿义务机关的原则确定。</tspan></text>
</g>
<g id="b-xs2">
<rect class="cy" x="1993" y="2966" width="320" height="250" rx="6"/>
<text class="ct" x="2002" y="2989.5">第二、对没有犯罪事实的人错误逮捕的，作出<tspan x="2002" dy="19.45">逮捕决定的机关为赔偿义务机关有权作出逮捕</tspan><tspan x="2002" dy="19.45">决定的机关为人民检察院和人民法院。由人民</tspan><tspan x="2002" dy="19.45">检察院决定逮捕的情况有两种：一种是公安机</tspan><tspan x="2002" dy="19.45">关提请检察机关批准逮捕;另一种是检察机关</tspan><tspan x="2002" dy="19.45">对自己直接受理的案件侦查终结后，决定是否</tspan><tspan x="2002" dy="19.45">逮捕。人民法院一般不作出逮捕决定，只有在</tspan><tspan x="2002" dy="19.45">自己直接受理的案件中，才作出逮捕决定。如</tspan><tspan x="2002" dy="19.45">果人民检察院错误批准逮捕或作出逮捕决定或</tspan><tspan x="2002" dy="19.45">者人民法院依法定职权错误作出逮捕决定，致</tspan><tspan x="2002" dy="19.45">使公民受到羁押的，该作出逮捕决定的机关为</tspan><tspan x="2002" dy="19.45">刑事赔偿义务机关。</tspan></text>
</g>
<g id="b-xs3">
<rect class="cy" x="1993" y="3249" width="320" height="153" rx="6"/>
<text class="ct" x="2002" y="3272.5">第三、再审改判无罪，作出原生效判决的人民<tspan x="2002" dy="19.45">法院为赔偿义务机关。再审改判无罪的赔偿义</tspan><tspan x="2002" dy="19.45">务机关要根据生效判决是哪一个法院作出来决</tspan><tspan x="2002" dy="19.45">定，如果生效判决是一审法院作出，原一审法</tspan><tspan x="2002" dy="19.45">院为赔偿义务机关;如果生效判决为原二审法</tspan><tspan x="2002" dy="19.45">院维持一审判决或者对一审法院判决予以改判</tspan><tspan x="2002" dy="19.45">的，原二审法院为赔偿义务机关。</tspan></text>
</g>
<g id="b-xs4">
<rect class="cy" x="1993" y="3435" width="320" height="348" rx="6"/>
<text class="ct" x="2002" y="3458.5">第四、二审改判无罪，作出一审判决的人民法<tspan x="2002" dy="19.45">院和作出逮捕决定的机关为共同赔偿义务机关</tspan><tspan x="2002" dy="19.45">。二审改判无罪并不构成错判，因而在刑事赔</tspan><tspan x="2002" dy="19.45">偿范围中并没有列举此类案件。但既然二审改</tspan><tspan x="2002" dy="19.45">判无罪，就说明逮捕是错误的，构成了错捕，</tspan><tspan x="2002" dy="19.45">此时受害人所受到的羁押构成对其人身权的损</tspan><tspan x="2002" dy="19.45">害，此种损害是从作出逮捕决定到二审改判无</tspan><tspan x="2002" dy="19.45">罪期间错误羁押所致的损害，所涉及到的是作</tspan><tspan x="2002" dy="19.45">出逮捕决定的机关和一审法院，故作出逮捕决</tspan><tspan x="2002" dy="19.45">定的机关和一审法院作为共同赔偿义务机关。</tspan><tspan x="2002" dy="19.45"> 第五、司法行政机关的监狱管理部门。司法</tspan><tspan x="2002" dy="19.45">行政机关的监狱部门及其工作人员在行使职权</tspan><tspan x="2002" dy="19.45">时，刑讯逼供或者体罚、虐待服刑人员，造成</tspan><tspan x="2002" dy="19.45">身体伤害或死亡的;或者殴打或者唆使、纵容</tspan><tspan x="2002" dy="19.45">他人殴打服刑人员，造成严重后果或者其他违</tspan><tspan x="2002" dy="19.45">法行为造成服刑人员身体伤害或者死亡的，该</tspan><tspan x="2002" dy="19.45">监狱管理部门则为刑事赔偿义务机关。</tspan></text>
</g>
<g id="l-pccx">
<rect class="cy" x="1994" y="3856" width="150" height="34" rx="6"/>
<text class="ct mid" x="2069" y="3878.5">四、国家赔偿程序。</text>
</g>
<g id="b-pccx">
<rect class="cy" x="2175" y="3817" width="320" height="114" rx="6"/>
<text class="ct" x="2184" y="3840.5">国家赔偿程序是指国家机关处理赔偿案件的过<tspan x="2184" dy="19.45">程及规则。国家赔偿程序总体上可以分为行政</tspan><tspan x="2184" dy="19.45">赔偿程序与刑事损害赔偿程序，这二者在赔偿</tspan><tspan x="2184" dy="19.45">程序上有所区别。因此我们可以从这两个方面</tspan><tspan x="2184" dy="19.45">来把握。</tspan></text>
</g>
</svg>
